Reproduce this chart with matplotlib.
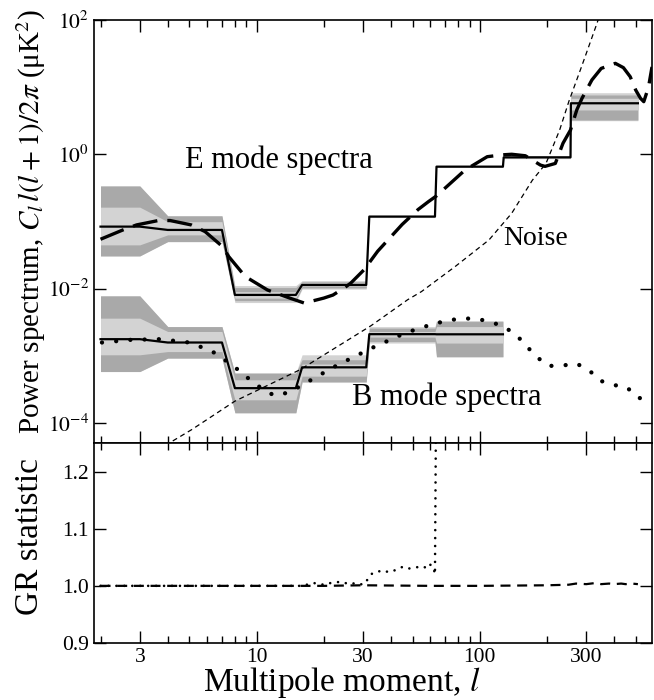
import numpy as np
import matplotlib
matplotlib.use("Agg")
import matplotlib.pyplot as plt
from matplotlib.ticker import FixedLocator, FixedFormatter, NullFormatter, NullLocator

plt.rcParams['font.family'] = ['Liberation Serif', 'DejaVu Serif']
plt.rcParams['mathtext.fontset'] = 'stix'

# ---------------- data ----------------
bin_lo = [2, 4, 8, 16, 32, 64, 128, 256]
bin_hi = [3, 7, 15, 31, 63, 127, 255, 511]

# E-mode binned estimates
e_best = [0.0836, 0.0746, 0.00803, 0.0113, 0.118, 0.654, 0.90, 5.75]
e_out_lo = [0.0306, 0.050, 0.00618, 0.0098, 0.114, 0.635, 0.86, 3.16]
e_out_hi = [0.337, 0.121, 0.01106, 0.0131, 0.122, 0.672, 0.95, 8.26]
e_dark_lo = [0.0306, 0.050, 0.0066, 0.0102, 0.116, 0.645, 0.88, 3.24]
e_dark_hi = [0.337, 0.121, 0.01033, 0.01256, 0.120, 0.663, 0.93, 7.64]
e_in_lo = [0.0447, 0.063, 0.00718, 0.0108, 0.117, 0.650, 0.89, 4.57]
e_in_hi = [0.163, 0.099, 0.0090, 0.0121, 0.119, 0.658, 0.915, 6.82]

# B-mode binned estimates (first six bins)
b_best = [0.00176, 0.00157, 3.28e-4, 6.7e-4, 2.09e-3, 2.08e-3]
b_out_lo = [5.8e-4, 9.2e-4, 1.41e-4, 3.98e-4, 1.54e-3, 9.5e-4]
b_out_hi = [7.77e-3, 2.71e-3, 5.5e-4, 1.03e-3, 2.71e-3, 3.33e-3]
b_dark_lo = [5.8e-4, 9.2e-4, 1.41e-4, 4.1e-4, 1.62e-3, 9.7e-4]
b_dark_hi = [7.77e-3, 2.71e-3, 5.5e-4, 8.7e-4, 2.57e-3, 3.22e-3]
b_in_lo = [1.03e-3, 1.15e-3, 2.2e-4, 4.95e-4, 1.89e-3, 1.54e-3]
b_in_hi = [3.62e-3, 2.29e-3, 4.37e-4, 7.5e-4, 2.29e-3, 2.71e-3]

# theory E spectrum
e_th_l = [2.0, 2.52, 2.9, 3.63, 4.1, 5.1, 5.88, 7.05, 7.5, 8.9, 11.2, 14.1, 16.3,
          17.4, 20, 22, 24.7, 26.4, 30.3, 34.9, 44.9, 52.9, 58.9, 64, 85.8, 108,
          126, 139, 160, 187, 196, 218, 236, 255, 272, 287, 318, 350, 405, 440,
          472, 500, 525, 543, 570, 591]
e_th_v = [0.0542, 0.0746, 0.0886, 0.103, 0.103, 0.0886, 0.0705, 0.042, 0.030, 0.0151,
          0.0095, 0.0072, 0.0061, 0.0064, 0.0072, 0.008, 0.0102, 0.012, 0.019, 0.036,
          0.09, 0.15, 0.197, 0.24, 0.58, 0.92, 0.98, 1.0, 0.95, 0.69, 0.66, 0.73,
          1.46, 2.3, 4.57, 6.8, 12.8, 19.0, 22.6, 19.5, 14.3, 9.0, 6.8, 6.07, 10.0, 20.0]

# theory B spectrum
b_th_l = [2.03, 2.73, 3.69, 4.99, 5.73, 6.54, 7.36, 8.36, 9.35, 10.6, 12.0, 13.9,
          15.9, 18.1, 20.7, 23.5, 27.0, 30.8, 35.2, 40.4, 46.0, 53.4, 61.4, 71.5,
          82.2, 95.3, 111, 128, 145.7, 160.9, 179.3, 201.9, 231.7, 270, 310, 345,
          395, 456, 504, 577, 591]
b_th_v = [1.57e-3, 1.72e-3, 1.76e-3, 1.57e-3, 1.32e-3, 1.09e-3, 8.2e-4, 6.0e-4, 4.37e-4,
          3.2e-4, 2.55e-4, 2.82e-4, 3.59e-4, 4.62e-4, 5.94e-4, 7.5e-4, 9.4e-4, 1.17e-3,
          1.45e-3, 1.76e-3, 2.16e-3, 2.54e-3, 2.94e-3, 3.33e-3, 3.57e-3, 3.57e-3, 3.22e-3,
          2.71e-3, 2.04e-3, 1.42e-3, 9.7e-4, 7.05e-4, 7.05e-4, 7.7e-4, 6.0e-4, 4.26e-4,
          3.67e-4, 3.4e-4, 2.41e-4, 2.12e-4, 2.05e-4]

# noise
noise_l = [3.9, 5.12, 8.0, 15.7, 32.6, 47.5, 54.8, 77.5, 110, 139, 172, 198, 228,
           251, 287, 335, 350]
noise_v = [4.6e-5, 7.9e-5, 2.1e-4, 6.2e-4, 2.8e-3, 6.8e-3, 9.0e-3, 2.12e-2, 5.3e-2,
           0.132, 0.41, 0.73, 2.3, 6.2, 21.0, 89.0, 140.0]

# Gelman-Rubin statistic
gr_e_l = [2, 20, 30, 60, 100, 200, 250, 270, 300, 330, 350, 380, 400, 430, 450, 480, 511]
gr_e_v = [1.000, 1.000, 1.001, 1.000, 1.000, 1.001, 1.002, 1.004, 1.003, 1.005, 1.003,
          1.004, 1.003, 1.004, 1.003, 1.004, 1.003]
gr_b_l = [2, 16, 18, 20, 22, 24, 26, 28, 30, 31, 33, 35, 37, 39, 41, 43, 45, 47, 50,
          53, 56, 58, 60, 62, 63, 64]
gr_b_v = [1.000, 1.000, 1.005, 1.002, 1.006, 1.007, 1.003, 1.005, 1.002, 1.008, 1.022,
          1.025, 1.027, 1.024, 1.026, 1.030, 1.033, 1.030, 1.031, 1.033, 1.034, 1.030,
          1.037, 1.033, 1.020, 1.45]

x_major = [3, 10, 30, 100, 300]
x_major_labels = ['3', '10', '30', '100', '300']
x_minor = [2, 4, 5, 6, 7, 8, 9, 20, 40, 50, 60, 70, 80, 90, 200, 400, 500]
y_top_ticks = [1e-4, 1e-2, 1e0, 1e2]
y_top_labels = [r'$10^{-4}$', r'$10^{-2}$', r'$10^{0}$', r'$10^{2}$']
y_bot_ticks = [0.9, 1.0, 1.1, 1.2]
y_bot_labels = ['0.9', '1.0', '1.1', '1.2']


def expand(vals, n):
    ls, vs = [], []
    for lo, hi, v in zip(bin_lo[:n], bin_hi[:n], vals):
        ll = np.arange(lo, hi + 1)
        ls.append(ll)
        vs.append(np.full(len(ll), v))
    return np.concatenate(ls), np.concatenate(vs)


LIGHT = '#d3d3d3'
DARK = '#a9a9a9'

fig = plt.figure(figsize=(6.54, 7.0), dpi=100)
L, R = 94 / 654, 652 / 654
ax1 = fig.add_axes([L, 1 - 443 / 700, R - L, (443 - 20) / 700])
ax2 = fig.add_axes([L, 1 - 643 / 700, R - L, (643 - 443) / 700])

for ax in (ax1, ax2):
    ax.set_xscale('log')
    ax.set_xlim(1.87, 591)
    ax.xaxis.set_major_locator(FixedLocator(x_major))
    ax.xaxis.set_minor_locator(FixedLocator(x_minor))
    ax.xaxis.set_minor_formatter(NullFormatter())
    ax.tick_params(which='both', direction='in', top=True, right=True, width=1.0)
    ax.tick_params(which='major', length=8.5, labelsize=15.5)
    ax.tick_params(which='minor', length=5)
    for s in ax.spines.values():
        s.set_linewidth(1.2)

# ---- top panel ----
for n, best, olo, ohi, dlo, dhi, ilo, ihi in [
        (8, e_best, e_out_lo, e_out_hi, e_dark_lo, e_dark_hi, e_in_lo, e_in_hi),
        (6, b_best, b_out_lo, b_out_hi, b_dark_lo, b_dark_hi, b_in_lo, b_in_hi)]:
    l, vlo = expand(olo, n)
    _, vhi = expand(ohi, n)
    ax1.fill_between(l, vlo, vhi, color=LIGHT, lw=0, zorder=1)
    _, vlo = expand(dlo, n)
    _, vhi = expand(dhi, n)
    ax1.fill_between(l, vlo, vhi, color=DARK, lw=0, zorder=2)
    _, vlo = expand(ilo, n)
    _, vhi = expand(ihi, n)
    ax1.fill_between(l, vlo, vhi, color=LIGHT, lw=0, zorder=3)
    _, vb = expand(best, n)
    ax1.plot(l, vb, color='black', lw=1.6, zorder=5)

ax1.plot(e_th_l, e_th_v, color='black', lw=2.4, linestyle=(0, (7.5, 3.0)), zorder=6)
ax1.plot(b_th_l, b_th_v, color='black', lw=3.1, linestyle=(0, (0.01, 3.3)),
         dash_capstyle='round', zorder=6)
ax1.plot(noise_l, noise_v, color='black', lw=0.9, linestyle=(0, (4, 3)), zorder=6)

ax1.set_yscale('log')
ax1.set_ylim(5e-5, 100)
ax1.yaxis.set_major_locator(FixedLocator(y_top_ticks))
ax1.yaxis.set_major_formatter(FixedFormatter(y_top_labels))
ax1.yaxis.set_minor_locator(NullLocator())
ax1.tick_params(axis='x', labelbottom=False)

ax1.text(0.163, 0.649, 'E mode spectra', transform=ax1.transAxes, fontsize=22,
         ha='left', va='baseline')
ax1.text(0.4618, 0.0898, 'B mode spectra', transform=ax1.transAxes, fontsize=22,
         ha='left', va='baseline')
ax1.text(0.733, 0.468, 'Noise', transform=ax1.transAxes, fontsize=20,
         ha='left', va='baseline')

# ---- bottom panel ----
ax2.plot(gr_e_l, gr_e_v, color='black', lw=1.6, linestyle=(0, (4.5, 3.0)), zorder=4)
ax2.plot(gr_b_l, gr_b_v, color='black', lw=1.9, linestyle=(0, (0.01, 3.0)),
         dash_capstyle='round', zorder=5)
ax2.set_ylim(0.9, 1.25)
ax2.yaxis.set_major_locator(FixedLocator(y_bot_ticks))
ax2.yaxis.set_major_formatter(FixedFormatter(y_bot_labels))
ax2.xaxis.set_major_formatter(FixedFormatter(x_major_labels))

fig.text(31 / 654, 1 - 222 / 700,
         r'Power spectrum, $C_l\,l(l+1)/2\pi$ (μK$^2$)',
         rotation=90, ha='center', va='center', fontsize=21)
fig.text(30 / 654, 1 - 537 / 700, 'GR statistic', rotation=90, ha='center',
         va='center', fontsize=24)
fig.text(342 / 654, 1 - 683 / 700, r'Multipole moment, $l$', ha='center',
         va='center', fontsize=24)

fig.savefig('out.png', dpi=100)
